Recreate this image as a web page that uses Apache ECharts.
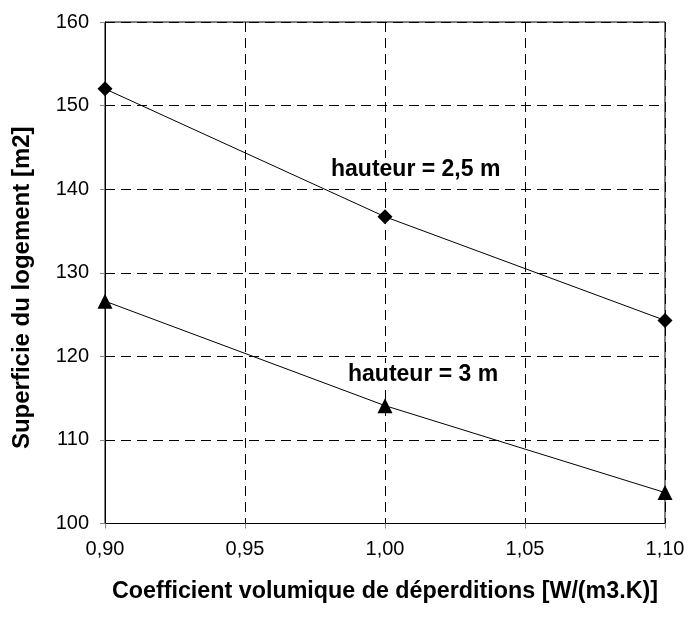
<!DOCTYPE html>
<html><head><meta charset="utf-8">
<script src="https://cdn.jsdelivr.net/npm/echarts@6/dist/echarts.min.js"></script>
<style>html,body{margin:0;padding:0;background:#fff}#c{width:692px;height:624px}</style>
</head><body><div id="c"></div>
<script>
const xValues = [0.90, 1.00, 1.10];
const serie25 = [152.0, 136.7, 124.3];
const serie3 = [126.6, 114.1, 103.7];
const labels = ["hauteur = 2,5 m", "hauteur = 3 m"];
const xTitle = "Coefficient volumique de déperditions [W/(m3.K)]";
const yTitle = "Superficie du logement [m2]";

const chart = echarts.init(document.getElementById('c'));
const font = 'Liberation Sans, Arial, sans-serif';
chart.setOption({
  animation: false,
  backgroundColor: '#fff',
  grid: {left: 105, right: 27, top: 22, bottom: 100.5, show: true, borderColor: '#000', borderWidth: 1, backgroundColor: 'transparent'},
  xAxis: {
    type: 'value', min: 0.9, max: 1.1, interval: 0.05,
    name: xTitle, nameLocation: 'middle', nameGap: 57,
    nameTextStyle: {fontFamily: font, fontSize: 23.3, fontWeight: 'bold', color: '#000'},
    axisLine: {show: true, lineStyle: {color: '#000', width: 1}},
    axisTick: {show: true, length: 5, lineStyle: {color: '#888'}},
    axisLabel: {fontFamily: font, fontSize: 20, color: '#000', margin: 16,
      formatter: v => v.toFixed(2).replace('.', ',')},
    splitLine: {show: true, lineStyle: {color: '#000', type: [10, 6], width: 1}}
  },
  yAxis: {
    type: 'value', min: 100, max: 160, interval: 10,
    name: yTitle, nameLocation: 'middle', nameGap: 71,
    nameTextStyle: {fontFamily: font, fontSize: 24, fontWeight: 'bold', color: '#000', padding: [0, 30, 0, 0]},
    axisLine: {show: true, lineStyle: {color: '#000', width: 1}},
    axisTick: {show: true, length: 5, lineStyle: {color: '#888'}},
    axisLabel: {fontFamily: font, fontSize: 20, color: '#000', margin: 16},
    splitLine: {show: true, lineStyle: {color: '#000', type: [10, 6], width: 1}}
  },
  series: [
    {type: 'line', data: xValues.map((x, i) => [x, serie25[i]]), symbol: 'diamond', symbolSize: 15,
     lineStyle: {color: '#000', width: 1}, itemStyle: {color: '#000'}, z: 5},
    {type: 'line', data: xValues.map((x, i) => [x, serie3[i]]), symbol: 'triangle', symbolSize: 15,
     lineStyle: {color: '#000', width: 1}, itemStyle: {color: '#000'}, z: 5}
  ],
  graphic: [
    {type: 'text', left: 331, top: 158, z: 10, style: {text: labels[0], font: 'bold 23px ' + font, fill: '#000', backgroundColor: '#fff'}},
    {type: 'text', left: 348, top: 363, z: 10, style: {text: labels[1], font: 'bold 23px ' + font, fill: '#000', backgroundColor: '#fff'}}
  ]
});
</script></body></html>
